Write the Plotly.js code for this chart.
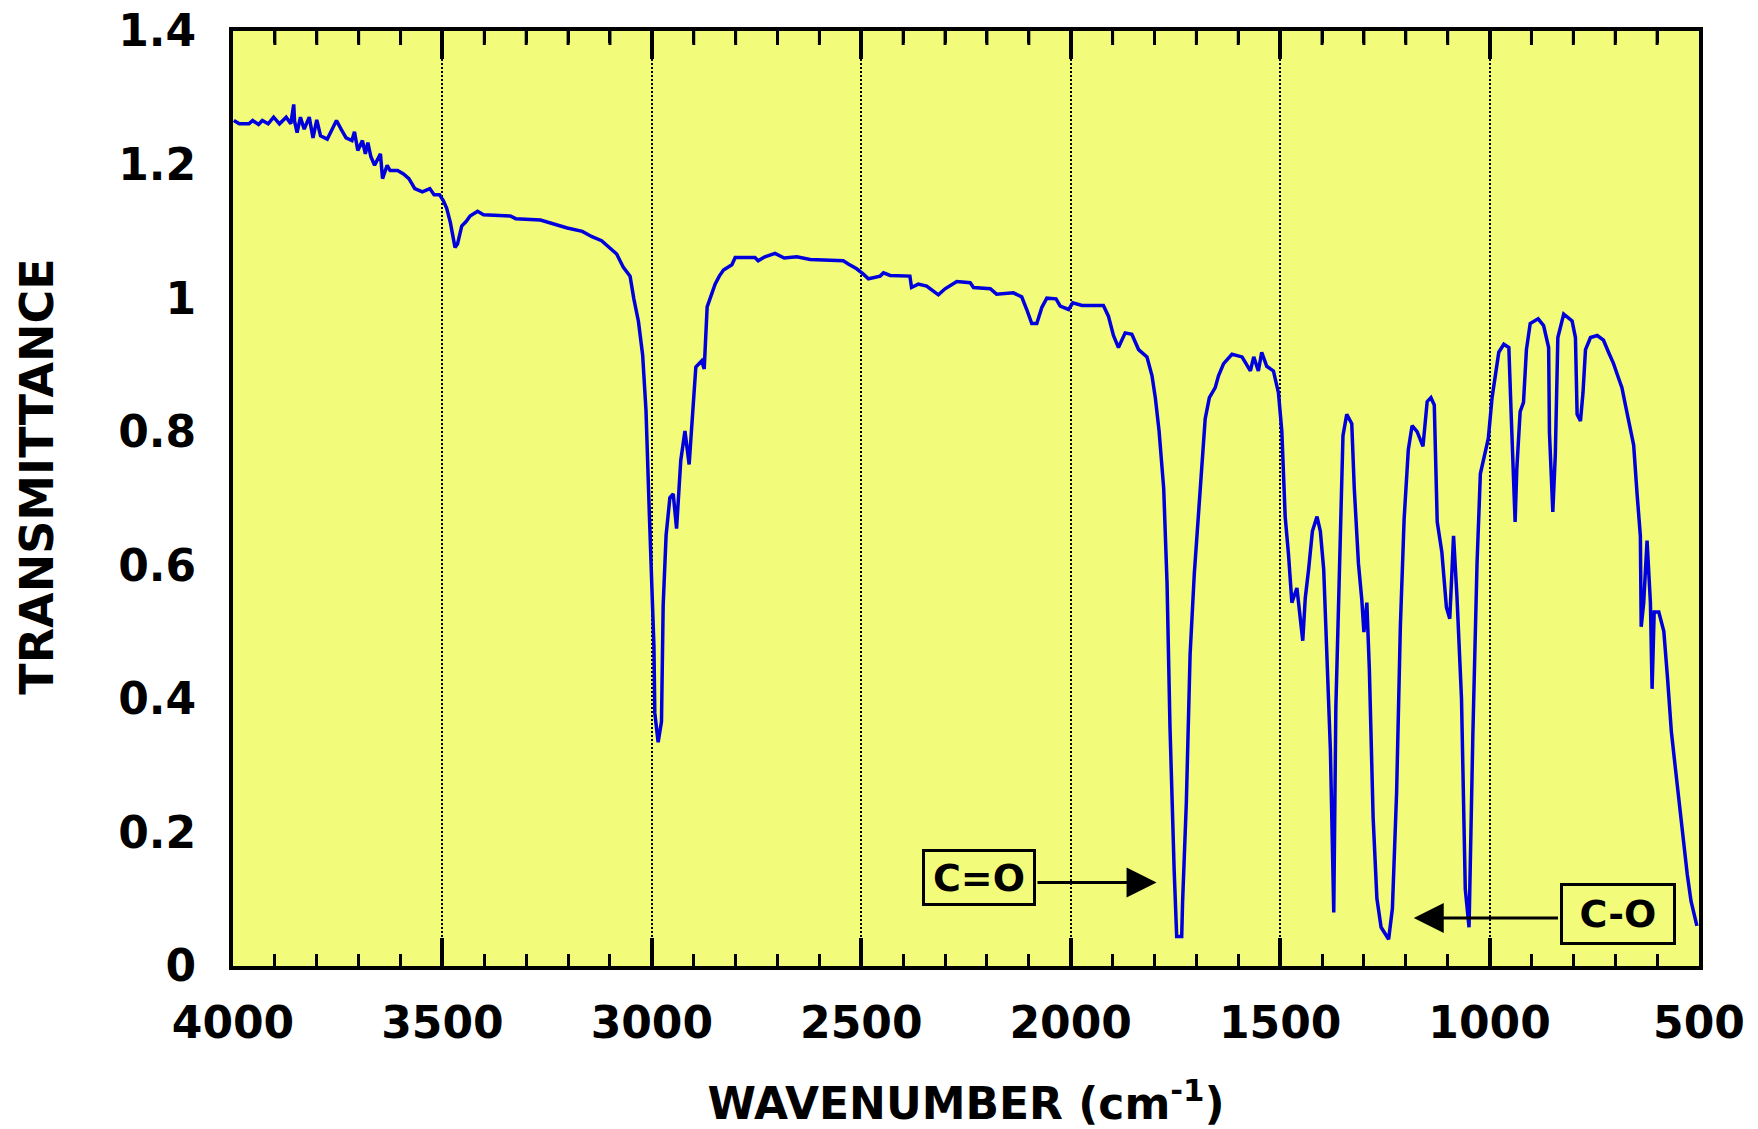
<!DOCTYPE html>
<html><head><meta charset="utf-8">
<script src="https://cdn.plot.ly/plotly-3.0.1.min.js"></script>
<style>html,body{margin:0;padding:0;background:#fff}</style>
</head><body>
<div id="chart" style="width:1758px;height:1129px"></div>
<script>
// IR spectrum
const wavenumber = [
 3998,3985,3962,3953,3939,3930,3916,3903,3889,3873,3862,3855,3853,3847,3839,3830,3818,3809,3800,3791,
 3775,3766,3753,3742,3730,3716,3710,3702,3691,3684,3678,3671,3662,3648,3643,3632,3625,3607,3593,3580,
 3566,3548,3530,3520,3507,3498,3490,3481,3475,3470,3464,3454,3443,3434,3416,3402,3338,3325,3266,3229,
 3202,3166,3143,3120,3102,3084,3068,3052,3043,3032,3022,3014,3006,3000,2995,2993,2985,2977,2973,2966,
 2957,2949,2941,2931,2921,2911,2903,2895,2881,2875,2868,2857,2849,2839,2829,2809,2801,2754,2746,2730,
 2706,2684,2654,2622,2543,2531,2511,2495,2483,2455,2447,2431,2384,2380,2364,2344,2328,2316,2300,2272,
 2240,2232,2192,2177,2137,2117,2105,2093,2081,2069,2057,2035,2025,2005,1995,1973,1922,1910,1898,1886,
 1870,1854,1838,1818,1806,1798,1789,1778,1770,1763,1753,1747,1735,1733,1724,1715,1705,1699,1689,1679,
 1669,1655,1647,1635,1615,1591,1571,1563,1552,1544,1532,1516,1504,1496,1488,1480,1472,1460,1446,1440,
 1432,1423,1412,1404,1396,1388,1380,1372,1367,1358,1350,1341,1329,1323,1313,1305,1300,1293,1287,1278,
 1269,1259,1241,1232,1222,1213,1204,1194,1185,1173,1159,1149,1140,1132,1125,1114,1103,1095,1086,1078,
 1067,1058,1049,1040,1030,1022,1014,1003,994,985,978,966,954,948,939,935,927,919,912,903,
 884,871,859,857,849,843,837,823,803,795,791,783,777,771,759,743,728,716,704,692,
 684,676,665,656,648,640,638,632,624,616,612,607,596,584,575,566,556,547,538,528,
 519,510,505
];
const transmittance = [
 1.266,1.261,1.261,1.266,1.260,1.266,1.261,1.271,1.261,1.271,1.261,1.290,1.265,1.248,1.271,1.253,1.271,1.240,1.267,1.243,
 1.238,1.250,1.266,1.253,1.240,1.236,1.249,1.221,1.236,1.216,1.233,1.212,1.199,1.216,1.179,1.199,1.191,1.191,1.186,1.179,
 1.164,1.159,1.164,1.155,1.155,1.146,1.135,1.113,1.093,1.076,1.081,1.108,1.115,1.123,1.130,1.125,1.123,1.119,1.117,1.110,
 1.105,1.100,1.092,1.086,1.076,1.066,1.046,1.033,0.999,0.965,0.915,0.832,0.677,0.580,0.478,0.379,0.335,0.366,0.540,0.645,
 0.701,0.707,0.655,0.757,0.801,0.751,0.819,0.897,0.906,0.894,0.987,1.008,1.021,1.033,1.042,1.050,1.061,1.061,1.056,1.062,
 1.067,1.060,1.062,1.058,1.056,1.051,1.044,1.036,1.029,1.033,1.038,1.034,1.033,1.016,1.021,1.018,1.010,1.005,1.014,1.025,
 1.023,1.016,1.014,1.006,1.008,1.002,0.983,0.962,0.962,0.986,1.000,0.999,0.988,0.983,0.993,0.989,0.989,0.973,0.944,0.926,
 0.948,0.946,0.923,0.912,0.884,0.851,0.801,0.715,0.573,0.358,0.143,0.044,0.044,0.094,0.244,0.466,0.587,0.644,0.737,0.819,
 0.851,0.866,0.884,0.902,0.916,0.912,0.891,0.912,0.891,0.919,0.898,0.891,0.858,0.801,0.673,0.616,0.544,0.566,0.487,0.551,
 0.594,0.651,0.673,0.651,0.594,0.466,0.323,0.080,0.387,0.602,0.794,0.826,0.812,0.715,0.602,0.548,0.500,0.544,0.444,0.222,
 0.101,0.058,0.040,0.086,0.259,0.508,0.669,0.773,0.809,0.800,0.778,0.845,0.851,0.840,0.665,0.620,0.537,0.520,0.644,0.555,
 0.400,0.115,0.058,0.344,0.602,0.737,0.758,0.790,0.851,0.891,0.919,0.931,0.926,0.819,0.665,0.744,0.830,0.844,0.923,0.962,
 0.969,0.959,0.926,0.798,0.680,0.766,0.941,0.976,0.966,0.941,0.826,0.816,0.858,0.923,0.941,0.944,0.937,0.919,0.902,0.880,
 0.866,0.841,0.809,0.780,0.708,0.644,0.508,0.544,0.637,0.544,0.415,0.530,0.530,0.501,0.430,0.351,0.294,0.244,0.187,0.137,
 0.097,0.069,0.060
];
const xTickStep = 500;
const xMinorStep = 100;
const xMin = 500, xMax = 4000;
const yTickVals = [0,0.2,0.4,0.6,0.8,1,1.2,1.4];
const yTickText = ['0','0.2','0.4','0.6','0.8','1','1.2','1.4'];
const bandLabels = ['C=O','C-O'];
const yTitle = 'TRANSMITTANCE';
const xTitle = 'WAVENUMBER (cm<sup>-1</sup>)';

const FONT = 'DejaVu Sans, Arial, sans-serif';
const BG = '#f3fb7b';

// invisible copies on overlaid axes that carry the major ticks, labels and grid
const majorBottomCarrier = {
  x: wavenumber, y: transmittance, xaxis: 'x2', type: 'scatter', mode: 'lines',
  line: {color: 'rgba(0,0,0,0)', width: 0}, hoverinfo: 'skip', showlegend: false
};
const majorTopCarrier = {
  x: wavenumber, y: transmittance, xaxis: 'x3', type: 'scatter', mode: 'lines',
  line: {color: 'rgba(0,0,0,0)', width: 0}, hoverinfo: 'skip', showlegend: false
};
const trace = {
  x: wavenumber, y: transmittance, type: 'scatter', mode: 'lines',
  line: {color: 'rgb(0,0,220)', width: 3.5}, hoverinfo: 'x+y', showlegend: false
};

// small 100 cm-1 tick marks along the top frame, placed through the x scale
const topMinorTicks = [];
for (let v = xMin + xMinorStep; v < xMax; v += xMinorStep) {
  if (v % xTickStep === 0) continue;
  topMinorTicks.push({
    type: 'line', xref: 'x', yref: 'paper',
    x0: v, x1: v, y0: 1, y1: 0.985, layer: 'above',
    line: {color: '#000', width: 3}
  });
}

const layout = {
  width: 1758, height: 1129,
  margin: {l: 233, r: 59, t: 31, b: 163},
  paper_bgcolor: '#ffffff', plot_bgcolor: BG,
  font: {family: FONT, color: '#000', weight: 700},
  // main x axis: 100 cm-1 small ticks
  xaxis: {
    range: [4000, 500], tickmode: 'linear', tick0: 500, dtick: xMinorStep,
    ticks: 'inside', ticklen: 12, tickwidth: 3, tickcolor: '#000',
    showticklabels: false, showgrid: false, zeroline: false,
    showline: true, linecolor: '#000', linewidth: 4, mirror: 'ticks'
  },
  // overlaid bottom axis: 500 cm-1 ticks, labels, dotted grid, title
  xaxis2: {
    overlaying: 'x', anchor: 'y', side: 'bottom', range: [4000, 500],
    tickmode: 'linear', tick0: 500, dtick: xTickStep,
    ticks: 'inside', ticklen: 28, tickwidth: 4, tickcolor: '#000',
    showgrid: true, gridcolor: '#000', gridwidth: 2, griddash: '2px,2px',
    showline: true, linecolor: '#000', linewidth: 4, zeroline: false,
    ticklabelstandoff: 15,
    tickfont: {family: FONT, size: 44, weight: 700, color: '#000'},
    title: {text: xTitle, standoff: 50,
            font: {family: FONT, size: 44, weight: 700, color: '#000'}}
  },
  // overlaid top axis: 500 cm-1 ticks only
  xaxis3: {
    overlaying: 'x', anchor: 'y', side: 'top', range: [4000, 500],
    tickmode: 'linear', tick0: 500, dtick: xTickStep,
    ticks: 'inside', ticklen: 28, tickwidth: 4, tickcolor: '#000',
    showticklabels: false, showgrid: false, zeroline: false,
    showline: true, linecolor: '#000', linewidth: 4
  },
  yaxis: {
    range: [0, 1.4], tickmode: 'array', tickvals: yTickVals, ticktext: yTickText,
    ticks: '', showgrid: false, zeroline: false,
    showline: true, linecolor: '#000', linewidth: 4, mirror: true,
    ticklabelstandoff: 24,
    tickfont: {family: FONT, size: 44, weight: 700, color: '#000'}
  },
  shapes: topMinorTicks,
  annotations: [
    {xref: 'paper', yref: 'paper', x: -0.1339, y: 0.523, xanchor: 'center', yanchor: 'middle',
     text: yTitle, textangle: -90, showarrow: false,
     font: {family: FONT, size: 46, weight: 700, color: '#000'}},
    {xref: 'x', yref: 'y', x: 2219, y: 0.133, text: bandLabels[0], showarrow: false,
     bordercolor: '#000', borderwidth: 3, borderpad: 0, width: 108, height: 51, bgcolor: BG,
     font: {family: FONT, size: 38, weight: 700, color: '#000'}},
    {xref: 'x', yref: 'y', axref: 'x', ayref: 'y', x: 1795, y: 0.125, ax: 2083, ay: 0.125,
     text: '', showarrow: true, arrowhead: 2, arrowsize: 2, arrowwidth: 3, arrowcolor: '#000',
     standoff: 0, startstandoff: 0},
    {xref: 'x', yref: 'y', x: 693, y: 0.078, text: bandLabels[1], showarrow: false,
     bordercolor: '#000', borderwidth: 3, borderpad: 0, width: 110, height: 56, bgcolor: BG,
     font: {family: FONT, size: 38, weight: 700, color: '#000'}},
    {xref: 'x', yref: 'y', axref: 'x', ayref: 'y', x: 1181, y: 0.072, ax: 833, ay: 0.072,
     text: '', showarrow: true, arrowhead: 2, arrowsize: 2, arrowwidth: 3, arrowcolor: '#000',
     standoff: 0, startstandoff: 0}
  ]
};

Plotly.newPlot('chart', [majorBottomCarrier, majorTopCarrier, trace], layout, {displayModeBar: false, responsive: false});
</script>
</body></html>
